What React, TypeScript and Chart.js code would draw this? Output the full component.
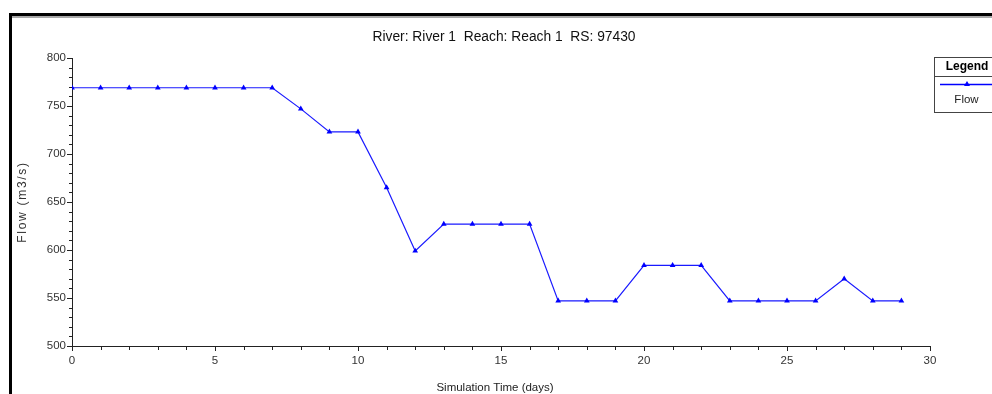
import React, { useEffect, useRef } from 'react';
import { Chart, registerables } from 'chart.js';

Chart.register(...registerables);

const TITLE = 'River: River 1  Reach: Reach 1  RS: 97430';
const X_TITLE = 'Simulation Time (days)';
const Y_TITLE = 'Flow (m3/s)';
const LEGEND_TITLE = 'Legend';
const SERIES_NAME = 'Flow';

const days = [0, 1, 2, 3, 4, 5, 6, 7, 8, 9, 10, 11, 12, 13, 14, 15, 16, 17, 18, 19, 20, 21, 22, 23, 24, 25, 26, 27, 28, 29];
const flow = [769, 769, 769, 769, 769, 769, 769, 769, 747, 723, 723, 665, 599, 627, 627, 627, 627, 547, 547, 547, 584, 584, 584, 547, 547, 547, 547, 570, 547, 547];

const X_MIN = 0;
const X_MAX = 30;
const X_STEP = 1;
const X_LABEL_EVERY = 5;
const Y_MIN = 500;
const Y_MAX = 800;
const Y_STEP = 10;
const Y_LABEL_EVERY = 50;

const FONT = '"Liberation Sans", Arial, sans-serif';
const BLUE = '#0000ff';

const decorPlugin = {
  id: 'decor',
  beforeDraw(chart: any) {
    const { ctx, width, height } = chart;
    ctx.save();
    ctx.fillStyle = '#ffffff';
    ctx.fillRect(0, 0, width, height);
    // frame
    ctx.fillStyle = '#000000';
    ctx.fillRect(9, 13, width - 9, 3);
    ctx.fillRect(9, 13, 3, height - 13);
    ctx.fillStyle = '#a8a8a8';
    ctx.fillRect(12, 16, width - 12, 2);
    // title
    ctx.fillStyle = '#111111';
    ctx.font = `13.8px ${FONT}`;
    ctx.textAlign = 'center';
    ctx.textBaseline = 'middle';
    ctx.fillText(TITLE, 504, 37);
    // x title
    ctx.fillStyle = '#222222';
    ctx.font = `11.5px ${FONT}`;
    ctx.fillText(X_TITLE, 495, 387.5);
    // y title
    ctx.save();
    ctx.translate(22.5, (chart.chartArea.top + chart.chartArea.bottom) / 2);
    ctx.rotate(-Math.PI / 2);
    ctx.font = `12px ${FONT}`;
    ctx.fillStyle = '#333333';
    try { (ctx as any).letterSpacing = '1.7px'; } catch (e) {}
    ctx.fillText(Y_TITLE, 0, 0);
    ctx.restore();
    ctx.restore();
  },
  afterDraw(chart: any) {
    const { ctx } = chart;
    const xs = chart.scales.x;
    const ys = chart.scales.y;
    ctx.save();
    ctx.strokeStyle = '#222222';
    ctx.lineWidth = 1;
    ctx.beginPath();
    ys.ticks.forEach((t: any) => {
      const y = Math.round(ys.getPixelForValue(t.value)) + 0.5;
      const len = t.value % Y_LABEL_EVERY === 0 ? 5 : 3;
      ctx.moveTo(ys.right - len, y);
      ctx.lineTo(ys.right, y);
    });
    xs.ticks.forEach((t: any) => {
      const x = Math.round(xs.getPixelForValue(t.value)) + 0.5;
      const len = t.value % X_LABEL_EVERY === 0 ? 5 : 4;
      ctx.moveTo(x, xs.top);
      ctx.lineTo(x, xs.top + len);
    });
    ctx.stroke();

    // legend box
    const lx = 934.5, ly = 57.5, lw = 70, lh = 55;
    ctx.fillStyle = '#ffffff';
    ctx.fillRect(lx, ly, lw, lh);
    ctx.strokeStyle = '#444444';
    ctx.strokeRect(lx, ly, lw, lh);
    ctx.beginPath();
    ctx.moveTo(lx, 76.5);
    ctx.lineTo(lx + lw, 76.5);
    ctx.stroke();
    ctx.fillStyle = '#000000';
    ctx.font = `bold 12px ${FONT}`;
    ctx.textAlign = 'center';
    ctx.textBaseline = 'middle';
    ctx.fillText(LEGEND_TITLE, 967, 67);
    ctx.strokeStyle = BLUE;
    ctx.lineWidth = 1.3;
    ctx.beginPath();
    ctx.moveTo(940, 84.5);
    ctx.lineTo(995, 84.5);
    ctx.stroke();
    ctx.fillStyle = BLUE;
    ctx.beginPath();
    ctx.moveTo(967, 81);
    ctx.lineTo(970, 86);
    ctx.lineTo(964, 86);
    ctx.closePath();
    ctx.fill();
    ctx.fillStyle = '#222222';
    ctx.font = `11.5px ${FONT}`;
    ctx.fillText(SERIES_NAME, 966.5, 100);
    ctx.restore();
  },
};

export default function App() {
  const ref = useRef<HTMLCanvasElement | null>(null);
  useEffect(() => {
    if (!ref.current) return;
    const chart = new Chart(ref.current, {
      type: 'line',
      data: {
        datasets: [
          {
            label: SERIES_NAME,
            data: days.map((d, i) => ({ x: d, y: flow[i] })),
            borderColor: '#1a1aff',
            backgroundColor: BLUE,
            borderWidth: 1.2,
            pointStyle: 'triangle',
            pointRadius: 3.3,
            pointBorderWidth: 0,
            pointBackgroundColor: BLUE,
            tension: 0,
          },
        ],
      },
      plugins: [decorPlugin],
      options: {
        responsive: false,
        animation: false,
        devicePixelRatio: 1,
        layout: { padding: { left: 0, right: 62, top: 58, bottom: 0 } },
        plugins: {
          legend: { display: false },
          title: { display: false },
          tooltip: { enabled: false },
        },
        scales: {
          x: {
            type: 'linear',
            min: X_MIN,
            max: X_MAX,
            grid: { display: false, drawTicks: false },
            border: { display: true, color: '#222222', width: 1 },
            ticks: {
              stepSize: X_STEP,
              autoSkip: false,
              maxRotation: 0,
              padding: 8,
              color: '#333333',
              font: { family: FONT, size: 11.5 },
              callback: (v: any) => (Number(v) % X_LABEL_EVERY === 0 ? String(v) : ''),
            },
            afterFit: (s: any) => { s.height = 48; },
          },
          y: {
            type: 'linear',
            min: Y_MIN,
            max: Y_MAX,
            grid: { display: false, drawTicks: false },
            border: { display: true, color: '#222222', width: 1 },
            ticks: {
              stepSize: Y_STEP,
              autoSkip: false,
              padding: 6,
              color: '#333333',
              font: { family: FONT, size: 11.5 },
              callback: (v: any) => (Number(v) % Y_LABEL_EVERY === 0 ? String(v) : ''),
            },
            afterFit: (s: any) => { s.width = 72; },
          },
        },
      },
    });
    return () => chart.destroy();
  }, []);
  return (
    <div style={{ position: 'absolute', left: 0, top: 0, width: 992, height: 394 }}>
      <canvas ref={ref} width={992} height={394} />
    </div>
  );
}
